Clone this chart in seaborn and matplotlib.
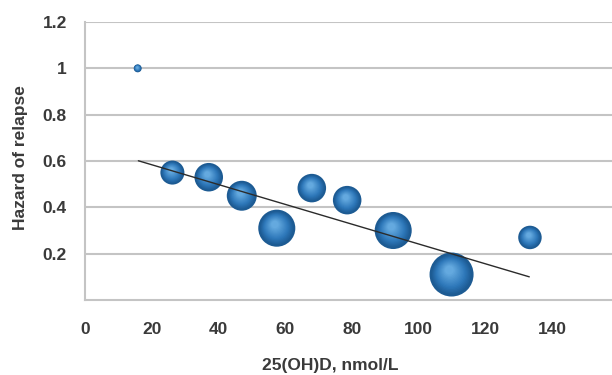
import numpy as np
import pandas as pd
import matplotlib
matplotlib.use('Agg')
import matplotlib.pyplot as plt
from matplotlib.path import Path
from matplotlib.markers import MarkerStyle
from matplotlib.colors import to_rgb
import seaborn as sns

#------------------------------------------------------------------------------
# data
vitd = [15.8, 26.2, 37.1, 47.0, 57.5, 68.0, 78.6, 92.4, 109.9, 133.4]
hazard = [1.00, 0.55, 0.53, 0.45, 0.31, 0.483, 0.431, 0.30, 0.11, 0.27]
n_group = [10, 90, 127, 140, 214, 127, 127, 214, 302, 86]
trend_x = [16.0, 133.2]
trend_y = [0.601, 0.10]
xticks = [0, 20, 40, 60, 80, 100, 120, 140]
yticks = [0.2, 0.4, 0.6, 0.8, 1.0, 1.2]
ytick_labels = ['0.2', '0.4', '0.6', '0.8', '1', '1.2']

df = pd.DataFrame({'vitd': vitd, 'hazard': hazard, 'n': n_group})
df_trend = pd.DataFrame({'x': trend_x, 'y': trend_y})

#------------------------------------------------------------------------------
sns.set_style('white')
plt.rcParams['font.family'] = ['Liberation Sans', 'DejaVu Sans']
txt_col = '#3a3a3a'
grid_col = '#c4c4c4'


def shaded_marker(f, dx, dy):
    # circle of radius f shifted by (dx, dy); dead moveto keeps the same scale as 'o'
    circ = Path.unit_circle()
    verts = circ.vertices * f + np.array([dx, dy])
    verts = np.vstack([[0.0, -1.0], verts])
    codes = np.concatenate([[Path.MOVETO], circ.codes])
    return MarkerStyle(Path(verts, codes))


fig = plt.figure(figsize=(6.12, 3.75), dpi=100)
ax = fig.add_axes([85 / 612, 75 / 375, 527 / 612, 278 / 375])

# bubbles drawn as stacked layers to mimic the glossy 3-D look
c_edge = np.array(to_rgb('#1d5b93'))
c_mid = np.array(to_rgb('#2d77b9'))
c_light = np.array(to_rgb('#64a9df'))
layers = [(1.0, 0.0, 0.0, c_edge)]
steps = 14
for i in range(steps):
    t = (i + 1) / steps
    f = 0.93 - 0.73 * t
    dx = -0.10 * t
    dy = 0.20 * t
    if t < 0.35:
        col = c_edge + (c_mid - c_edge) * (t / 0.35)
    else:
        col = c_mid + (c_light - c_mid) * ((t - 0.35) / 0.65)
    layers.append((f, dx, dy, col))

for f, dx, dy, col in layers:
    sns.scatterplot(data=df, x='vitd', y='hazard', size='n',
                    sizes=(33, 1004), size_norm=(10, 302),
                    marker=shaded_marker(f, dx, dy), color=tuple(col),
                    edgecolor='none', linewidth=0, legend=False,
                    ax=ax, zorder=3)

sns.lineplot(data=df_trend, x='x', y='y', color='#2b2b2b', linewidth=1.0,
             ax=ax, zorder=5)

ax.set_xlim(0, 158)
ax.set_ylim(0, 1.2)
ax.set_xticks(xticks)
ax.set_yticks(yticks)
ax.set_yticklabels(ytick_labels)
for yv in yticks:
    ax.axhline(yv, color=grid_col, linewidth=1.5, zorder=1)

ax.tick_params(axis='both', length=0, labelsize=12.5, labelcolor=txt_col)
ax.tick_params(axis='y', pad=13)
ax.tick_params(axis='x', pad=16)
for lab in ax.get_xticklabels() + ax.get_yticklabels():
    lab.set_fontweight('bold')

for side in ['top', 'right']:
    ax.spines[side].set_visible(False)
for side in ['left', 'bottom']:
    ax.spines[side].set_color(grid_col)
    ax.spines[side].set_linewidth(1.5)

ax.set_xlabel('25(OH)D, nmol/L', fontsize=12.5, fontweight='bold', color=txt_col)
ax.set_ylabel('Hazard of relapse', fontsize=12.5, fontweight='bold', color=txt_col)
ax.xaxis.set_label_coords(0.465, -0.21)
ax.yaxis.set_label_coords(-0.108, 0.514)

fig.savefig('out.png', dpi=100)
